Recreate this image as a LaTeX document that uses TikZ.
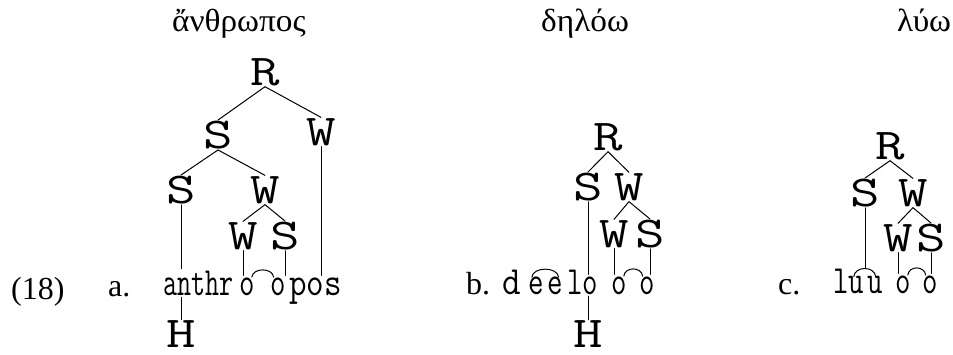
\documentclass[tikz,border=0pt]{standalone}
\usepackage{fontspec}
\setmainfont{Liberation Serif}
\usepackage{graphicx}
\usetikzlibrary{calc}

% tree labels: typewriter capitals, widened
\newcommand{\capw}[1]{\scalebox{1.3}[1]{#1}}
% segment letters: typewriter lower case, condensed
\newcommand{\segw}[2][0.75]{\scalebox{#1}[1]{#2}}

\tikzset{
  caplab/.style={inner sep=0pt, outer sep=1pt, font=\fontsize{44}{44}\selectfont\ttfamily},
  seg/.style={inner sep=0pt, outer sep=2pt, anchor=base west, font=\fontsize{40}{40}\selectfont\ttfamily},
  gloss/.style={inner sep=0pt, anchor=base west, font=\fontsize{32}{32}\selectfont},
  branch/.style={line width=1pt, line cap=round},
  tiearc/.style={line width=1pt},
}

\begin{document}
\begin{tikzpicture}[x=1pt, y=-1pt]
\useasboundingbox (0,0) rectangle (953,354);

% ---------- headings ----------
\node[gloss] (hA) at (172,31) {\scalebox{1.04}[1]{ἄνθρωπος}};
\node[gloss] (hB) at (541,31) {\scalebox{1.04}[1]{δηλόω}};
\node[gloss] (hC) at (897,31) {\scalebox{1.04}[1]{λύω}};

\node[gloss] (ex) at (11,299) {(18)};
\node[gloss] (la) at (108,296) {a.};
\node[gloss] (lb) at (466,294) {b.};
\node[gloss] (lc) at (778,294) {c.};

% ---------- (a) anthroopos ----------
\node[caplab] (aR)  at (265,72)  {\capw{R}};
\node[caplab] (aS1) at (218,135) {\capw{S}};
\node[caplab] (aW1) at (321,132) {\capw{W}};
\node[caplab] (aS2) at (181,190) {\capw{S}};
\node[caplab] (aW2) at (265,190) {\capw{W}};
\node[caplab] (aW3) at (243,236) {\capw{W}};
\node[caplab] (aS3) at (285,236) {\capw{S}};
\node[caplab] (aH)  at (181,334) {\capw{H}};

\node[seg] (aw1) at (161,295) {\segw[0.68]{anthr}};
\node[seg] (ao1) at (237,295) {\segw{o}};
\node[seg] (ao2) at (268,295) {\segw{o}};
\node[seg] (aw2) at (287,295) {\segw[0.85]{pos}};

\draw[branch] (aR.south) -- (aS1.north);
\draw[branch] (aR.south) -- (aW1.north);
\draw[branch] (aS1.south) -- (aS2.north);
\draw[branch] (aS1.south) -- (aW2.north);
\draw[branch] (aW2.south) -- (aW3.north);
\draw[branch] (aW2.south) -- (aS3.north);
\draw[branch] (aS2.south) -- (aS2.south |- aw1.north);
\draw[branch] (aW1.south) -- (aW1.south |- aw2.north);
\draw[branch] (aW3.south) -- (aW3.south |- ao1.north);
\draw[branch] (aS3.south) -- (aS3.south |- ao2.north);
\draw[branch] (aH.north) -- (aH.north |- aw1.south);
\draw[tiearc] ($(ao1.north)+(5,2)$) .. controls +(1,-10) and +(-1,-10) .. ($(ao2.north)+(-4,2)$);

% ---------- (b) deeloo ----------
\node[caplab] (bR)  at (608,137) {\capw{R}};
\node[caplab] (bS)  at (588,187) {\capw{S}};
\node[caplab] (bW)  at (629,187) {\capw{W}};
\node[caplab] (bW2) at (614,234) {\capw{W}};
\node[caplab] (bS2) at (650,234) {\capw{S}};
\node[caplab] (bH)  at (588,334) {\capw{H}};

\node[seg] (bd)  at (500,294) {\segw[0.9]{d}};
\node[seg] (be1) at (526,294) {\segw{e}};
\node[seg] (be2) at (545,294) {\segw{e}};
\node[seg] (bl)  at (565,294) {\segw{l}};
\node[seg] (bo1) at (580,294) {\segw{o}};
\node[seg] (bo2) at (609,294) {\segw{o}};
\node[seg] (bo3) at (637,294) {\segw{o}};

\draw[branch] (bR.south) -- (bS.north);
\draw[branch] (bR.south) -- (bW.north);
\draw[branch] (bW.south) -- (bW2.north);
\draw[branch] (bW.south) -- (bS2.north);
\draw[branch] (bS.south) -- (bS.south |- bo1.north);
\draw[branch] (bW2.south) -- (bW2.south |- bo2.north);
\draw[branch] (bS2.south) -- (bS2.south |- bo3.north);
\draw[branch] (bH.north) -- (bH.north |- bo1.south);
\draw[tiearc] ($(be1.north)+(-4,3)$) .. controls +(1,-11) and +(-1,-11) .. ($(be2.north)+(4,3)$);
\draw[tiearc] ($(bo2.north)+(5,2)$) .. controls +(1,-10) and +(-1,-10) .. ($(bo3.north)+(-4,2)$);

% ---------- (c) luuoo ----------
\node[caplab] (cR)  at (890,146) {\capw{R}};
\node[caplab] (cS)  at (865,193) {\capw{S}};
\node[caplab] (cW)  at (913,193) {\capw{W}};
\node[caplab] (cW2) at (898,238) {\capw{W}};
\node[caplab] (cS2) at (931,238) {\capw{S}};

\node[seg] (cl)  at (831,293) {\segw{l}};
\node[seg] (cu1) at (846,293) {\segw{u}};
\node[seg] (cu2) at (865,293) {\segw{u}};
\node[seg] (co1) at (893,293) {\segw{o}};
\node[seg] (co2) at (920,293) {\segw{o}};

\coordinate (cuTop) at ($(cu1.north)!0.5!(cu2.north)+(0,-6)$);

\draw[branch] (cR.south) -- (cS.north);
\draw[branch] (cR.south) -- (cW.north);
\draw[branch] (cW.south) -- (cW2.north);
\draw[branch] (cW.south) -- (cS2.north);
\draw[branch] (cS.south) -- (cS.south |- cuTop);
\draw[branch] (cW2.south) -- (cW2.south |- co1.north);
\draw[branch] (cS2.south) -- (cS2.south |- co2.north);
\draw[tiearc] ($(cu1.north)+(-2,3)$) .. controls +(1,-11) and +(-1,-11) .. ($(cu2.north)+(1,3)$);
\draw[tiearc] ($(co1.north)+(5,2)$) .. controls +(1,-10) and +(-1,-10) .. ($(co2.north)+(-4,2)$);
\end{tikzpicture}
\end{document}
